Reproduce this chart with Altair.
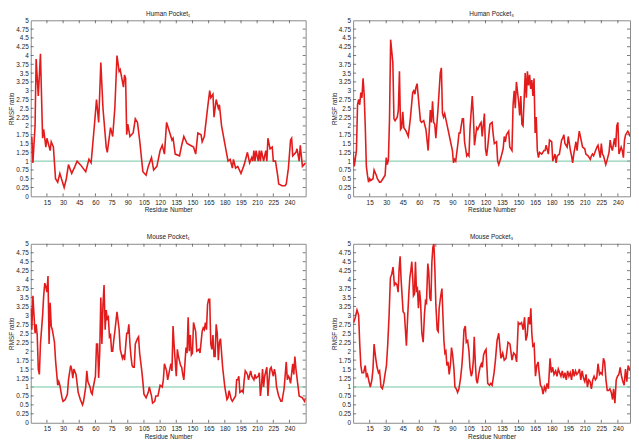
import altair as alt
import pandas as pd

# ---------------- data ----------------
hp1_res = [1,2,4,5,7,9,11,12,14,15,18,19,21,23,25,27,29,31,33,35,38,41,43,46,51,54,56,59,61,63,65,67,70,71,74,76,78,80,82,83,86,87,88,89,90,92,95,97,99,101,104,107,109,112,114,117,120,122,124,126,129,131,132,134,138,140,142,145,148,151,153,155,158,159,161,164,166,167,169,170,172,174,175,177,180,183,185,187,188,190,192,195,198,201,203,205,206,207,208,209,211,212,213,214,216,218,219,220,222,224,225,227,229,230,233,236,237,239,241,242,243,246,247,249,250,252,255]
hp1_val = [1.7,0.95,2.0,3.9,2.85,4.05,1.65,1.9,1.4,1.65,1.3,1.55,1.4,0.5,0.4,0.65,0.45,0.25,0.5,0.9,0.65,0.85,1.0,0.9,0.7,1.05,0.95,2.0,2.75,2.1,3.8,2.5,1.4,1.25,1.95,1.7,2.5,4.0,3.55,3.6,3.1,3.45,3.35,1.75,2.05,1.7,1.8,2.2,2.1,1.6,0.7,0.6,0.85,1.1,0.75,0.85,1.3,1.45,1.2,2.1,1.8,1.6,1.65,1.2,1.15,1.45,1.7,1.5,1.45,1.4,1.2,1.8,1.75,1.55,1.7,2.5,3.0,2.8,2.9,2.25,2.75,2.5,2.6,2.0,1.5,1.0,1.05,0.8,1.05,0.8,0.85,0.65,0.9,1.25,0.95,1.1,1.0,1.3,1.0,1.3,1.0,1.3,1.0,1.3,1.0,1.3,1.0,1.65,1.35,1.4,1.0,1.0,0.6,0.35,0.3,0.3,0.35,0.8,1.6,1.65,1.15,1.25,1.35,1.0,1.45,0.85,0.95]

hp3_res = [0,1,3,4,5,6,7,8,9,10,11,12,13,14,15,16,18,19,21,22,24,25,27,28,29,30,31,32,33,34,36,37,38,40,41,42,43,44,45,46,48,50,52,54,55,56,57,58,60,61,62,64,66,68,70,71,72,73,74,75,77,79,80,81,82,83,84,86,88,90,91,92,93,95,96,97,99,100,101,103,104,105,106,108,109,110,112,113,115,116,117,119,120,121,122,124,126,127,128,130,131,132,134,136,137,138,139,141,142,144,145,146,147,148,150,151,152,153,154,156,157,158,159,160,161,162,163,164,165,166,167,168,169,171,173,174,175,177,178,180,181,183,184,185,187,189,190,191,192,194,195,197,198,199,200,202,203,204,205,207,208,210,211,213,215,216,217,218,221,222,224,225,226,227,229,230,232,233,234,235,237,238,239,240,241,243,244,245,246,247,249,250,251]
hp3_val = [1.25,0.85,1.3,2.6,2.75,2.6,2.95,2.8,3.35,2.9,2.0,0.85,0.6,0.4,0.5,0.45,0.5,0.75,0.6,0.5,0.4,0.4,0.5,0.55,0.6,1.1,0.9,1.05,2.2,4.45,3.8,2.2,2.15,2.25,2.45,3.55,1.9,1.95,2.4,1.95,1.85,1.7,2.25,2.95,3.0,2.9,3.1,3.2,2.5,2.15,2.1,2.15,1.9,1.3,2.45,2.1,2.7,2.1,2.05,1.65,2.5,3.5,3.65,2.35,2.25,2.35,2.2,1.9,1.6,1.3,0.95,1.05,1.0,1.5,1.8,1.8,2.2,2.2,1.55,1.15,1.2,1.15,1.95,2.85,2.3,1.45,1.95,1.9,2.05,2.1,1.7,2.35,1.35,1.15,1.4,2.05,2.1,1.75,1.5,1.55,1.0,0.9,1.1,1.35,1.7,1.55,1.75,1.85,1.4,1.3,2.6,3.0,2.5,3.25,2.7,2.3,2.85,2.05,2.0,3.5,2.8,3.55,3.15,3.45,3.05,3.3,2.85,3.35,1.8,2.25,1.3,1.1,1.25,1.2,1.3,1.3,1.45,1.2,1.6,1.55,1.0,1.2,0.95,1.15,1.2,1.6,1.65,1.75,1.5,1.4,1.7,1.3,1.15,0.95,1.2,1.55,1.3,1.6,1.85,1.55,1.4,1.35,1.2,1.15,1.05,1.15,1.2,1.15,1.4,1.45,1.1,1.5,1.2,1.15,0.9,1.0,1.25,1.6,1.4,1.3,1.65,1.4,2.0,2.1,1.2,1.4,1.3,1.1,1.6,1.75,1.85,1.8,1.7]

mp1_res = [0,1,2,4,5,6,7,8,9,11,12,13,14,15,16,17,18,19,20,22,23,25,26,27,29,30,32,34,35,37,38,39,40,42,44,46,48,49,51,52,53,55,56,57,58,60,61,62,63,64,65,66,67,68,69,70,71,72,73,74,75,76,77,78,80,82,83,85,86,87,89,90,91,92,93,94,95,96,97,99,100,101,103,104,105,107,109,110,112,113,115,116,118,120,122,123,124,126,127,128,130,131,132,133,135,136,137,139,140,141,142,144,145,146,147,148,149,150,151,153,154,156,157,159,160,161,162,163,164,165,166,167,168,169,170,171,172,173,174,175,176,178,180,182,183,184,186,187,189,190,191,192,193,194,196,197,198,199,200,201,202,204,205,206,207,208,209,211,212,213,214,215,216,217,219,220,221,222,223,225,226,227,228,230,232,233,235,237,238,239,240,241,243,244,245,246,247,249,252,254,255]
mp1_val = [3.2,2.6,3.55,2.5,2.75,2.45,1.5,1.35,2.2,3.0,3.55,3.9,3.8,3.65,4.1,2.2,3.35,2.7,2.6,2.25,1.75,1.05,1.15,1.05,0.7,0.6,0.65,0.8,1.2,1.6,1.5,1.25,1.5,1.35,0.85,0.65,0.5,0.6,1.0,1.45,1.15,1.0,0.85,0.8,1.0,1.3,2.2,2.2,1.25,2.0,3.5,2.2,3.3,3.85,2.6,3.15,2.9,2.95,2.4,2.45,2.0,2.0,2.3,2.55,3.1,2.6,2.05,1.8,1.9,1.75,2.5,2.5,2.75,2.2,1.85,1.6,1.55,1.55,2.2,2.35,2.4,1.95,1.45,1.15,0.8,0.7,0.85,1.0,0.75,0.55,0.6,0.75,0.75,1.05,1.0,1.2,1.65,1.45,1.2,1.35,1.65,1.45,2.7,2.15,1.3,2.05,1.85,1.6,1.55,1.35,1.2,2.1,1.95,2.95,2.0,2.45,1.9,1.95,2.8,2.55,2.0,2.05,1.95,2.55,2.65,2.6,2.8,2.6,3.3,3.45,3.45,2.2,2.05,2.45,1.85,1.85,2.75,2.5,1.75,2.25,2.35,1.55,1.0,0.65,0.7,0.9,0.65,0.6,0.7,0.75,1.2,1.2,1.3,0.85,0.9,0.85,1.2,1.45,1.4,1.35,1.2,1.45,1.3,1.25,1.2,1.35,1.25,1.3,1.4,0.75,1.0,1.5,1.0,1.3,1.55,0.75,1.2,1.5,1.55,1.3,1.5,1.35,1.0,0.75,0.6,0.6,0.95,1.7,1.2,1.3,1.25,1.1,1.65,1.35,1.85,1.5,1.25,0.75,0.7,0.6,0.7]

# Mouse Pocket3: (residue, RMSF ratio) pairs
mp3_points = [
    (0.5,2.8),(2,2.95),(3.5,3.15),(5,3.0),(6,2.2),(7,1.6),(8,1.4),(9.5,1.4),(11,1.6),(12,1.3),
    (13,1.35),(14.4,1.15),(15.6,1.0),(17,1.2),(18,1.5),(19,2.2),(20.5,1.8),(21.7,1.55),(23,1.4),(24,1.45),
    (25.3,1.0),(26.5,0.95),(27.7,1.1),(28.9,1.35),(30.2,1.6),(31.4,2.2),(32.6,3.0),(33.8,4.05),(35,4.15),(36.2,4.35),
    (37.4,3.85),(38.6,3.9),(39.8,3.85),(40.8,3.65),(41.7,4.3),(42.6,4.65),(43.5,4.0),(44.4,3.55),(45.3,3.1),(46.5,3.05),
    (47.4,2.6),(48.3,2.15),(49.5,3.0),(50.5,3.6),(51.4,4.05),(52.3,4.25),(53.2,4.5),(54.1,4.0),(54.7,3.55),(55.6,3.6),
    (56.5,4.5),(57.4,3.7),(58.3,3.75),(59.2,3.2),(60.2,3.7),(61.1,3.4),(62.3,2.5),(63.5,2.25),(64.7,3.05),(65.6,3.4),
    (66.5,3.35),(67.7,4.45),(68.6,4.2),(69.5,3.5),(70.5,3.4),(71.4,4.5),(72.3,4.9),(73.2,5.0),(74.1,4.3),(75,3.3),
    (76.2,2.6),(77.1,2.55),(78,3.2),(79.2,3.5),(80.5,3.75),(81.4,3.0),(82.3,2.3),(83.2,1.95),(84.1,2.0),(85,1.6),
    (86,1.7),(87.1,1.35),(88.3,1.65),(89.2,2.1),(90.2,1.9),(91.4,1.5),(92.3,1.0),(93.5,0.95),(94.7,0.85),(95.9,0.95),
    (97.4,1.25),(98.6,1.6),(99.5,2.0),(100.5,2.6),(101.7,2.7),(102.6,2.25),(103.8,2.3),(105,2.0),(105.9,1.55),(107.1,1.3),
    (108,1.4),(109,1.75),(109.8,2.4),(110.8,1.65),(111.7,1.2),(112.6,1.1),(113.8,1.35),(115,1.55),(116.2,1.65),(117.1,1.55),
    (118.3,1.9),(119.5,2.0),(120.5,2.05),(122,1.1),(123.6,1.05),(124.8,1.1),(126,1.05),(127.8,1.4),(129,1.75),(130.5,2.3),
    (132,2.5),(134,1.8),(135.6,1.95),(137,1.75),(138.6,1.8),(140.4,2.25),(142.2,2.2),(144,1.75),(145.5,1.95),(147,1.9),
    (148.2,1.7),(149.7,2.8),(151.2,2.75),(152.7,2.8),(154.2,2.6),(155.4,2.95),(156.6,2.3),(157.8,2.45),(159,2.95),(160.2,2.75),
    (161.1,3.2),(162,2.5),(162.9,2.15),(164.1,2.2),(165.3,1.3),(166.5,1.6),(167.7,1.7),(168.6,1.4),(169.8,1.05),(171,1.0),
    (172.2,0.8),(173.4,1.0),(174.6,0.9),(175.8,1.1),(177,0.95),(178.5,1.8),(179.7,1.4),(180.9,1.55),(182.1,1.35),(183.6,1.45),
    (184.8,1.3),(186,1.5),(187.2,1.4),(188.4,1.3),(189.6,1.45),(190.8,1.25),(192,1.4),(193.2,1.2),(194.4,1.45),(195.6,1.3),
    (196.8,1.4),(198,1.2),(199.2,1.5),(200.4,1.3),(201.6,1.45),(202.8,1.35),(204,1.4),(205.2,1.5),(206.4,1.2),(207.6,1.45),
    (208.8,1.25),(210,1.15),(211.2,1.35),(212.4,1.0),(213.6,1.2),(214.8,1.15),(216,0.95),(217.2,1.2),(218.4,1.3),(219.6,1.2),
    (220.8,1.25),(222,1.65),(223.3,1.35),(224.5,1.4),(225.7,1.35),(226.9,1.8),(228,1.7),(229.2,1.2),(230.4,0.9),(231.6,0.9),
    (232.8,0.95),(234,0.85),(235.2,0.65),(236.1,0.95),(237.3,0.55),(238.5,1.2),(239.7,1.3),(240.9,1.35),(242.1,1.55),(243.3,1.3),
    (244.5,1.15),(245.7,1.05),(246.9,1.5),(248.1,1.15),(249.3,1.6),(250.5,1.5),(251,1.45),
]
mp3_res = [p[0] for p in mp3_points]
mp3_val = [p[1] for p in mp3_points]

Y_TICKS = [0, 0.25, 0.5, 0.75, 1, 1.25, 1.5, 1.75, 2, 2.25, 2.5, 2.75, 3, 3.25, 3.5, 3.75, 4, 4.25, 4.5, 4.75, 5]
X_TICKS = [15, 30, 45, 60, 75, 90, 105, 120, 135, 150, 165, 180, 195, 210, 225, 240]
REF_LEVEL = [1.0]

RED = "#e21c1c"
GREEN = "#72c4a2"
TICK = "#555555"
FONT = "Liberation Sans"
FS = 6.5

X_AXIS = alt.Axis(values=X_TICKS, title="Residue Number", labelPadding=3, titlePadding=1)
Y_AXIS = alt.Axis(values=Y_TICKS, title="RMSF ratio", labelExpr="toString(datum.value)",
                  labelPadding=2.5, titlePadding=1)


def panel(title, res, val, xmax, w, h):
    df = pd.DataFrame({"res": res, "val": val})
    xs = alt.Scale(domain=[0, xmax], nice=False, zero=False)
    ys = alt.Scale(domain=[0, 5], nice=False, zero=True)

    X = lambda f: alt.X(f, scale=xs, axis=X_AXIS)
    Y = lambda f: alt.Y(f, scale=ys, axis=Y_AXIS)

    ydf = pd.DataFrame({"val": Y_TICKS[1:-1]})
    xdf = pd.DataFrame({"res": X_TICKS})
    yl = alt.Chart(ydf).mark_rule(color=TICK, strokeWidth=0.8).encode(
        y=Y("val:Q"), x=alt.value(0), x2=alt.value(3))
    yr = alt.Chart(ydf).mark_rule(color=TICK, strokeWidth=0.8).encode(
        y=Y("val:Q"), x=alt.value(w - 3), x2=alt.value(w))
    xb = alt.Chart(xdf).mark_rule(color=TICK, strokeWidth=0.8).encode(
        x=X("res:Q"), y=alt.value(h - 3), y2=alt.value(h))
    xt = alt.Chart(xdf).mark_rule(color=TICK, strokeWidth=0.8).encode(
        x=X("res:Q"), y=alt.value(0), y2=alt.value(3))

    ref = alt.Chart(pd.DataFrame({"val": REF_LEVEL})).mark_rule(
        color=GREEN, strokeWidth=1
    ).encode(y=Y("val:Q"))

    line = alt.Chart(df).mark_line(color=RED, strokeWidth=1.6, clip=True).encode(
        x=X("res:Q"), y=Y("val:Q"))

    return alt.layer(yl, yr, xb, xt, ref, line).properties(
        width=w, height=h,
        title=alt.TitleParams(title, anchor="middle", offset=0),
    )


top = alt.hconcat(
    panel("Human  Pocket\u2081", hp1_res, hp1_val, 255, 278, 178),
    panel("Human  Pocket\u2083", hp3_res, hp3_val, 251, 280, 178),
    spacing=24,
)
bottom = alt.hconcat(
    panel("Mouse  Pocket\u2081", mp1_res, mp1_val, 255, 278, 181),
    panel("Mouse  Pocket\u2083", mp3_res, mp3_val, 251, 280, 181),
    spacing=24,
)

chart = alt.vconcat(top, bottom, spacing=20).properties(
    padding={"left": 0, "top": 0, "right": 0, "bottom": 0}
).configure_view(
    stroke="#8a8a8a", strokeWidth=1
).configure_axis(
    domain=False, ticks=False, grid=False,
    labelFont=FONT, labelFontSize=FS, labelColor="#222222",
    titleFont=FONT, titleFontSize=FS, titleColor="#222222", titleFontWeight="normal",
).configure_title(
    font=FONT, fontSize=FS, color="#222222", fontWeight="normal"
)

chart.save("out.html", embed_options={"renderer": "svg", "actions": False})
